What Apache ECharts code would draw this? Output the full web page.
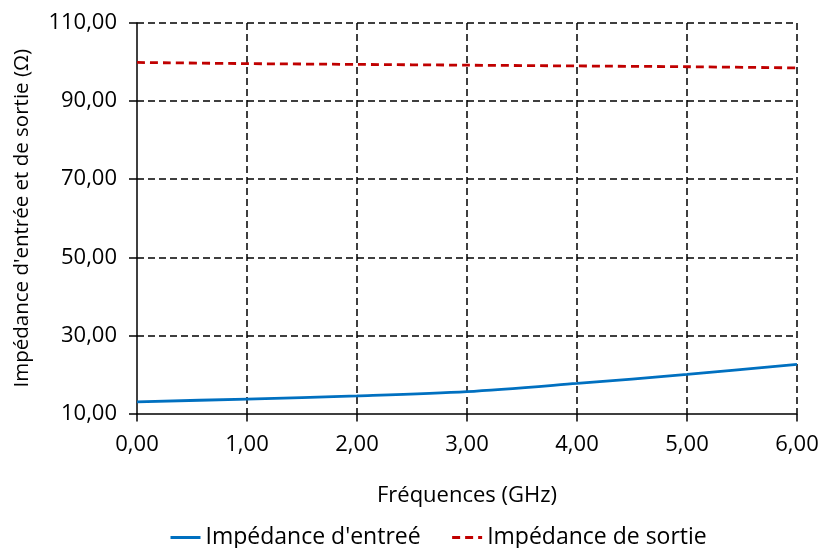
<!DOCTYPE html>
<html><head><meta charset="utf-8">
<script src="https://cdn.jsdelivr.net/npm/echarts@6/dist/echarts.min.js"></script>
<style>html,body{margin:0;padding:0;background:#fff}#c{width:823px;height:548px}</style>
</head><body><div id="c"></div>
<script>
const freq = [0, 1, 2, 3, 4, 5, 6];
const zIn = [13.0, 13.7, 14.5, 15.6, 17.7, 20.0, 22.6];
const zOut = [99.9, 99.6, 99.4, 99.2, 99.0, 98.8, 98.5];
const names = ["Impédance d'entreé", "Impédance de sortie"];
const xTitle = "Fréquences (GHz)";
const yTitle = "Impédance d'entrée et de sortie (Ω)";

const fmt = v => v.toFixed(2).replace('.', ',');
const font = "'Open Sans', sans-serif";
const chart = echarts.init(document.getElementById('c'));
const grid = {type: [7, 4], color: '#000', width: 1.5};
chart.setOption({
  animation: false,
  textStyle: {fontFamily: font},
  grid: {left: 137, right: 26, top: 23, bottom: 134.5, outerBoundsMode: 'none', containLabel: false},
  legend: {
    top: 521, left: 164, itemWidth: 30, itemHeight: 14, itemGap: 30,
    itemStyle: {opacity: 0},
    lineStyle: {width: 3},
    textStyle: {fontSize: 23, color: '#000', fontFamily: font},
    data: names
  },
  xAxis: {
    type: 'value', min: 0, max: 6, interval: 1,
    name: xTitle, nameLocation: 'middle', nameGap: 71,
    nameTextStyle: {fontSize: 22, color: '#000'},
    axisLine: {lineStyle: {color: '#000', width: 1.5}},
    axisTick: {length: 8, lineStyle: {color: '#000', width: 1.5}},
    axisLabel: {fontSize: 22, color: '#000', margin: 20, formatter: fmt},
    splitLine: {show: true, showMinLine: false, lineStyle: grid}
  },
  yAxis: {
    type: 'value', min: 10, max: 110, interval: 20,
    name: yTitle, nameLocation: 'middle', nameGap: 104,
    nameTextStyle: {fontSize: 20.5, color: '#000'},
    axisLine: {show: true, lineStyle: {color: '#000', width: 1.5}},
    axisTick: {show: true, length: 8, lineStyle: {color: '#000', width: 1.5}},
    axisLabel: {fontSize: 22, color: '#000', margin: 20, formatter: fmt},
    splitLine: {show: true, showMinLine: false, lineStyle: grid}
  },
  series: [
    {name: names[0], type: 'line', data: freq.map((f, i) => [f, zIn[i]]),
     smooth: 0.3, symbol: 'none', lineStyle: {color: '#0070C0', width: 2.8}, itemStyle: {color: '#0070C0'}},
    {name: names[1], type: 'line', data: freq.map((f, i) => [f, zOut[i]]),
     smooth: 0.3, symbol: 'none', lineStyle: {color: '#C00000', width: 2.8, type: [8, 5]}, itemStyle: {color: '#C00000'}}
  ]
});
</script></body></html>
